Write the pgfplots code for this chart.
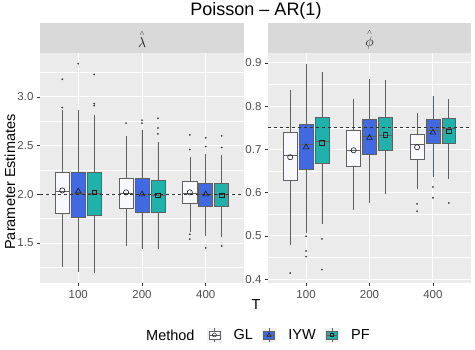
\documentclass[border=0pt]{standalone}
\usepackage{pgfplots}
\pgfplotsset{compat=1.18}
\usepgfplotslibrary{statistics}
\usepackage{fontspec}
\setmainfont{Liberation Sans}
\definecolor{gray92}{HTML}{EBEBEB}
\definecolor{gray85}{HTML}{D9D9D9}
\definecolor{gray30}{HTML}{4D4D4D}
\definecolor{gray20}{HTML}{333333}
\definecolor{gray10}{HTML}{1A1A1A}
\definecolor{legbg}{HTML}{F2F2F2}
\definecolor{boxcol}{HTML}{606060}
\definecolor{outcol}{HTML}{333333}
\definecolor{glcol}{HTML}{F8F8FF}
\definecolor{iywcol}{HTML}{4169E1}
\definecolor{pfcol}{HTML}{20B2AA}
\pgfplotsset{
  panel/.style={
    scale only axis, anchor=south west, height=230pt,
    xmin=0.4, xmax=3.6, xtick={1,2,3}, xticklabels={100,200,400},
    axis background/.style={fill=gray92},
    axis line style={draw=none},
    tick pos=left, tick align=outside,
    major tick length=3pt, minor tick length=0pt,
    tick style={gray20, line width=0.6pt},
    xmajorgrids, ymajorgrids, yminorgrids,
    major grid style={white, line width=0.9pt},
    minor grid style={white, line width=0.45pt},
    /pgf/number format/assume math mode=true,
    /pgf/number format/.cd, fixed, fixed zerofill, precision=1, /pgfplots/.cd,
    ticklabel style={font=\fontsize{11.5}{12}\selectfont, text=gray30},
    xticklabel style={yshift=-1pt},
    boxplot/draw direction=y,
  },
  bx/.style={fill=#1, draw=boxcol, line width=0.6pt, mark=*, mark size=0.75pt,
    mark options={draw=outcol, fill=outcol, line width=0.2pt}, forget plot},
  hl/.style={gray20, line width=0.6pt, dash pattern=on 3pt off 3pt, forget plot},
}
\begin{document}
\begin{tikzpicture}
\useasboundingbox (0pt,0pt) rectangle (475pt,350pt);
% ---------------- left panel: lambda ----------------
\begin{axis}[panel, at={(40pt,67pt)}, width=204pt,
  ymin=1.09, ymax=3.45, ytick={1.5,2,2.5,3}, minor ytick={1.25,1.75,2.25,2.75,3.25},
  legend columns=-1,
  legend style={at={(0.804,-0.226)}, anchor=west, draw=none, fill=none,
    font=\fontsize{14.5}{16}\selectfont, nodes={inner sep=0pt},
    /tikz/every odd column/.append style={column sep=12pt},
    /tikz/every even column/.append style={column sep=9pt}},
]
\addplot[bx=glcol, boxplot prepared={draw position=0.75, lower whisker=1.25, lower quartile=1.81, median=2.03, upper quartile=2.23, upper whisker=2.86, box extend=0.22, whisker extend=0}] coordinates {(0,3.18) (0,2.89)};
\addplot[bx=iywcol, boxplot prepared={draw position=1.0, lower whisker=1.20, lower quartile=1.76, median=2.01, upper quartile=2.23, upper whisker=2.87, box extend=0.22, whisker extend=0}] coordinates {(0,3.34)};
\addplot[bx=pfcol, boxplot prepared={draw position=1.25, lower whisker=1.19, lower quartile=1.78, median=2.01, upper quartile=2.23, upper whisker=2.81, box extend=0.22, whisker extend=0}] coordinates {(0,3.23) (0,2.93) (0,2.91)};
\addplot[bx=glcol, boxplot prepared={draw position=1.75, lower whisker=1.47, lower quartile=1.86, median=2.01, upper quartile=2.16, upper whisker=2.60, box extend=0.22, whisker extend=0}] coordinates {(0,2.73)};
\addplot[bx=iywcol, boxplot prepared={draw position=2.0, lower whisker=1.44, lower quartile=1.82, median=2.00, upper quartile=2.16, upper whisker=2.66, box extend=0.22, whisker extend=0}] coordinates {(0,2.76) (0,2.73)};
\addplot[bx=pfcol, boxplot prepared={draw position=2.25, lower whisker=1.44, lower quartile=1.82, median=1.99, upper quartile=2.14, upper whisker=2.54, box extend=0.22, whisker extend=0}] coordinates {(0,2.78) (0,2.68) (0,2.62)};
\addplot[bx=glcol, boxplot prepared={draw position=2.75, lower whisker=1.61, lower quartile=1.91, median=2.01, upper quartile=2.13, upper whisker=2.38, box extend=0.22, whisker extend=0}] coordinates {(0,2.61) (0,2.46) (0,1.59) (0,1.54)};
\addplot[bx=iywcol, boxplot prepared={draw position=3.0, lower whisker=1.57, lower quartile=1.88, median=2.00, upper quartile=2.11, upper whisker=2.41, box extend=0.22, whisker extend=0}] coordinates {(0,2.58) (0,2.49) (0,1.45)};
\addplot[bx=pfcol, boxplot prepared={draw position=3.25, lower whisker=1.56, lower quartile=1.88, median=2.00, upper quartile=2.11, upper whisker=2.40, box extend=0.22, whisker extend=0}] coordinates {(0,2.60) (0,2.48) (0,1.47)};
\addplot[hl] coordinates {(0.4,2) (3.6,2)};
\addplot[only marks, mark=o, mark size=2.6pt, mark options={gray10, line width=0.6pt},
  legend image code/.code={
    \fill[legbg] (0pt,-7pt) rectangle (14pt,7pt);
    \draw[boxcol, line width=0.5pt] (7pt,-7pt)--(7pt,7pt);
    \draw[boxcol, fill=glcol, line width=0.5pt] (1.5pt,-4pt) rectangle (12.5pt,4pt);
    \draw[boxcol, line width=0.5pt] (1.5pt,0pt)--(12.5pt,0pt);
    \draw[gray10, line width=0.5pt] (7pt,0pt) circle (2pt);}]
  coordinates {(0.75,2.04) (1.75,2.02) (2.75,2.02)};
\addlegendentry{GL}
\addplot[only marks, mark=triangle, mark size=3.2pt, mark options={gray10, line width=0.6pt},
  legend image code/.code={
    \fill[legbg] (0pt,-7pt) rectangle (14pt,7pt);
    \draw[boxcol, line width=0.5pt] (7pt,-7pt)--(7pt,7pt);
    \draw[boxcol, fill=iywcol, line width=0.5pt] (1.5pt,-4pt) rectangle (12.5pt,4pt);
    \draw[boxcol, line width=0.5pt] (1.5pt,0pt)--(12.5pt,0pt);
    \draw[gray10, line width=0.5pt] (5pt,-1.3pt)--(9pt,-1.3pt)--(7pt,2.3pt)--cycle;}]
  coordinates {(1.0,2.03) (2.0,2.00) (3.0,2.00)};
\addlegendentry{IYW}
\addplot[only marks, mark=square, mark size=2.3pt, mark options={gray10, line width=0.6pt},
  legend image code/.code={
    \fill[legbg] (0pt,-7pt) rectangle (14pt,7pt);
    \draw[boxcol, line width=0.5pt] (7pt,-7pt)--(7pt,7pt);
    \draw[boxcol, fill=pfcol, line width=0.5pt] (1.5pt,-4pt) rectangle (12.5pt,4pt);
    \draw[boxcol, line width=0.5pt] (1.5pt,0pt)--(12.5pt,0pt);
    \draw[gray10, line width=0.5pt] (5.3pt,-1.7pt) rectangle (8.7pt,1.7pt);}]
  coordinates {(1.25,2.02) (2.25,1.99) (3.25,1.99)};
\addlegendentry{PF}
\end{axis}
% ---------------- right panel: phi ----------------
\begin{axis}[panel, at={(268pt,67pt)}, width=203pt,
  ymin=0.391, ymax=0.923, ytick={0.4,0.5,0.6,0.7,0.8,0.9},
  minor ytick={0.45,0.55,0.65,0.75,0.85},
]
\addplot[bx=glcol, boxplot prepared={draw position=0.75, lower whisker=0.480, lower quartile=0.628, median=0.686, upper quartile=0.740, upper whisker=0.838, box extend=0.22, whisker extend=0}] coordinates {(0,0.414)};
\addplot[bx=iywcol, boxplot prepared={draw position=1.0, lower whisker=0.506, lower quartile=0.655, median=0.711, upper quartile=0.758, upper whisker=0.898, box extend=0.22, whisker extend=0}] coordinates {(0,0.499) (0,0.465) (0,0.452)};
\addplot[bx=pfcol, boxplot prepared={draw position=1.25, lower whisker=0.528, lower quartile=0.667, median=0.719, upper quartile=0.775, upper whisker=0.879, box extend=0.22, whisker extend=0}] coordinates {(0,0.493) (0,0.422)};
\addplot[bx=glcol, boxplot prepared={draw position=1.75, lower whisker=0.560, lower quartile=0.661, median=0.698, upper quartile=0.744, upper whisker=0.817, box extend=0.22, whisker extend=0}] coordinates {};
\addplot[bx=iywcol, boxplot prepared={draw position=2.0, lower whisker=0.576, lower quartile=0.688, median=0.730, upper quartile=0.769, upper whisker=0.862, box extend=0.22, whisker extend=0}] coordinates {};
\addplot[bx=pfcol, boxplot prepared={draw position=2.25, lower whisker=0.597, lower quartile=0.698, median=0.732, upper quartile=0.775, upper whisker=0.860, box extend=0.22, whisker extend=0}] coordinates {};
\addplot[bx=glcol, boxplot prepared={draw position=2.75, lower whisker=0.609, lower quartile=0.678, median=0.712, upper quartile=0.736, upper whisker=0.785, box extend=0.22, whisker extend=0}] coordinates {(0,0.574) (0,0.557)};
\addplot[bx=iywcol, boxplot prepared={draw position=3.0, lower whisker=0.637, lower quartile=0.713, median=0.744, upper quartile=0.769, upper whisker=0.823, box extend=0.22, whisker extend=0}] coordinates {(0,0.613) (0,0.588)};
\addplot[bx=pfcol, boxplot prepared={draw position=3.25, lower whisker=0.632, lower quartile=0.713, median=0.748, upper quartile=0.771, upper whisker=0.816, box extend=0.22, whisker extend=0}] coordinates {(0,0.576)};
\addplot[hl] coordinates {(0.4,0.75) (3.6,0.75)};
\addplot[only marks, mark=o, mark size=2.6pt, mark options={gray10, line width=0.6pt}]
  coordinates {(0.75,0.682) (1.75,0.698) (2.75,0.705)};
\addplot[only marks, mark=triangle, mark size=3.2pt, mark options={gray10, line width=0.6pt}]
  coordinates {(1.0,0.705) (2.0,0.727) (3.0,0.739)};
\addplot[only marks, mark=square, mark size=2.3pt, mark options={gray10, line width=0.6pt}]
  coordinates {(1.25,0.715) (2.25,0.734) (3.25,0.742)};
\end{axis}
% ---------------- strips, titles ----------------
\fill[gray85] (40pt,297pt) rectangle (244pt,327pt);
\fill[gray85] (268pt,297pt) rectangle (471pt,327pt);
\node[text=gray10, font=\fontsize{14}{16}\selectfont] at (142pt,311pt) {$\mathop{\lambda}\limits^{\scriptscriptstyle\wedge}$};
\node[text=gray10, font=\fontsize{14}{16}\selectfont] at (369.5pt,311pt) {$\mathop{\phi}\limits^{\scriptscriptstyle\wedge}$};
\node[anchor=base, font=\fontsize{18}{20}\selectfont] at (256pt,334pt) {Poisson -- AR(1)};
\node[rotate=90, font=\fontsize{14.5}{16}\selectfont] at (10pt,168pt) {Parameter Estimates};
\node[font=\fontsize{14.5}{16}\selectfont] at (256pt,45pt) {T};
\node[anchor=west, font=\fontsize{14.5}{16}\selectfont, inner sep=0pt] at (146pt,15pt) {Method};
\end{tikzpicture}
\end{document}
